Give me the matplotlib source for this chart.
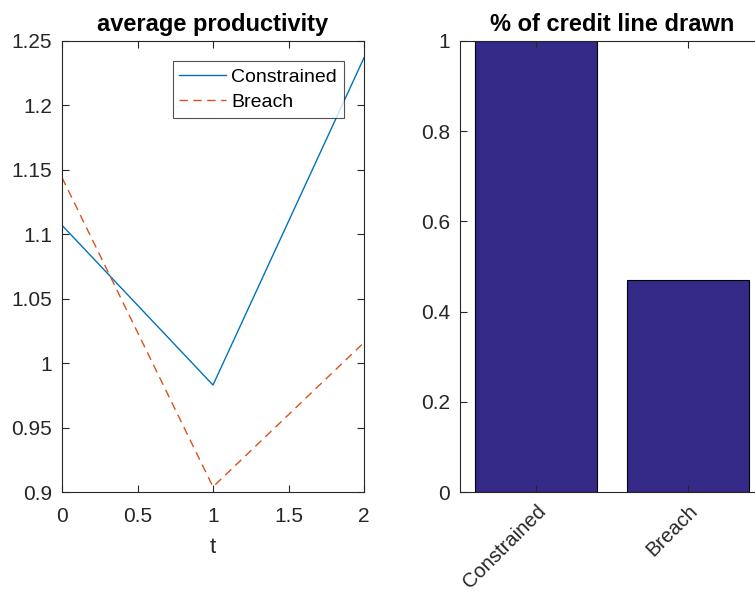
import numpy as np
import matplotlib.pyplot as plt

plt.rcParams['font.family'] = ['Liberation Sans', 'DejaVu Sans']

# Data
t = [0, 1, 2]
prod_constrained = [1.107, 0.983, 1.237]
prod_breach = [1.144, 0.904, 1.016]
categories = ['Constrained', 'Breach']
credit_drawn = [1.0, 0.47]

axcol = '#262626'
W, H = 755, 595
fig = plt.figure(figsize=(W / 100, H / 100), dpi=100)

def px_axes(x0, y0, x1, y1):
    return fig.add_axes([x0 / W, 1 - y1 / H, (x1 - x0) / W, (y1 - y0) / H])

def style(ax, xpad=11):
    for s in ax.spines.values():
        s.set_color(axcol)
        s.set_linewidth(0.8)
    ax.tick_params(direction='in', top=True, right=True, colors=axcol,
                   labelsize=15, length=5, width=0.8)
    ax.tick_params(axis='x', pad=xpad)
    ax.tick_params(axis='y', pad=7)

# Left panel: average productivity
ax1 = px_axes(62, 41, 364, 492)
ax1.plot(t, prod_constrained, color='#0072BD', lw=1.0, label='Constrained')
ax1.plot(t, prod_breach, color='#D95319', lw=1.0, ls=(0, (6, 4)), label='Breach')
ax1.set_xlim(0, 2)
ax1.set_ylim(0.9, 1.25)
ax1.set_xticks([0, 0.5, 1, 1.5, 2])
ax1.set_xticklabels(['0', '0.5', '1', '1.5', '2'])
ax1.set_yticks(np.arange(0.9, 1.2501, 0.05))
ax1.set_yticklabels(['0.9', '0.95', '1', '1.05', '1.1', '1.15', '1.2', '1.25'])
ax1.set_xlabel('t', fontsize=16, color=axcol, labelpad=8)
ax1.set_title('average productivity', fontsize=17, fontweight='bold', pad=7)
style(ax1)
leg = ax1.legend(loc='upper right', fontsize=14, frameon=True, fancybox=False,
                 edgecolor=axcol, handlelength=2.4, borderaxespad=1.05,
                 handletextpad=0.25, labelspacing=0.4, borderpad=0.35)
leg.get_frame().set_linewidth(0.8)

# Right panel: % of credit line drawn (axes runs past the right edge)
ax2 = px_axes(460, 41, 764, 492)
x = np.arange(1, len(categories) + 1)
ax2.bar(x, credit_drawn, width=0.8, color='#352A87', edgecolor='black', lw=0.8)
ax2.set_xlim(0.5, 2.5)
ax2.set_ylim(0, 1)
ax2.set_xticks(x)
ax2.set_xticklabels(categories, rotation=45, ha='right', rotation_mode='anchor')
ax2.set_yticks([0, 0.2, 0.4, 0.6, 0.8, 1])
ax2.set_yticklabels(['0', '0.2', '0.4', '0.6', '0.8', '1'])
ax2.set_title('% of credit line drawn', fontsize=17, fontweight='bold', pad=7)
style(ax2, xpad=7)
for lbl in ax2.get_xticklabels():
    lbl.set_fontsize(14.5)

fig.savefig('out.png', dpi=100)
